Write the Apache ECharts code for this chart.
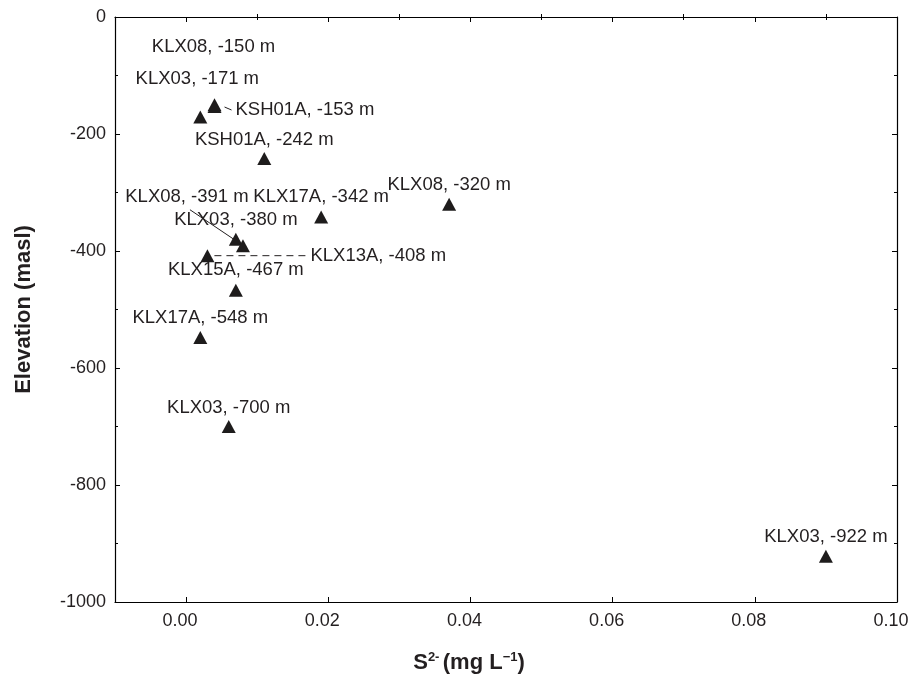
<!DOCTYPE html>
<html>
<head>
<meta charset="utf-8">
<script src="https://cdn.jsdelivr.net/npm/echarts@6/dist/echarts.min.js"></script>
<style>
html,body{margin:0;padding:0;background:#fff;}
#chart{width:911px;height:682px;}
</style>
</head>
<body>
<div id="chart"></div>
<script>
// ---- data ----
const boreholes = ['KLX08','KLX03','KSH01A','KSH01A','KLX17A','KLX08','KLX03','KLX08','KLX13A','KLX15A','KLX17A','KLX03','KLX03'];
const sulfide   = [0.004, 0.002, 0.004, 0.011, 0.019, 0.037, 0.007, 0.008, 0.003, 0.007, 0.002, 0.006, 0.090];
const elevation = [-150, -171, -153, -242, -342, -320, -380, -391, -408, -467, -548, -700, -922];
const xMajorTicks = [0.00, 0.02, 0.04, 0.06, 0.08, 0.10];
const xMinorTicks = [0.01, 0.03, 0.05, 0.07, 0.09];

// ---- label layout (style only, pixel offsets from the marker) ----
const labelOffsets = [
  {dx:-1, dy:-58, align:'center'},
  {dx:-3, dy:-38, align:'center'},
  {dx:21, dy:3, align:'left'},
  {dx:0, dy:-19, align:'center'},
  {dx:0, dy:-20, align:'center'},
  {dx:0, dy:-19, align:'center'},
  {dx:0, dy:-19, align:'center'},
  {dx:-56, dy:-49, align:'center'},
  {dx:103, dy:0, align:'left'},
  {dx:0, dy:-20, align:'center'},
  {dx:0, dy:-20, align:'center'},
  {dx:0, dy:-19, align:'center'},
  {dx:0, dy:-19, align:'center'}
];
// leader lines: [point index, start dx, start dy, end dx, end dy, style]
const leaders = [
  [2, 10, 0.5, 17, 3.5, 'solid'],
  [7, -53, -36, -4, -3, 'arrow'],
  [8, 7, 0, 98, 0, 'dashed']
];

const FONT = '"Liberation Sans", Arial, sans-serif';
const TXT = '#231f20';

const points = boreholes.map((b, i) => ({ name: b, value: [sulfide[i], elevation[i]] }));

const chart = echarts.init(document.getElementById('chart'), null, {renderer:'canvas'});

const axisLineStyle = { color: '#000', width: 1.2 };
function xAx(extra){
  return Object.assign({
    type:'value', min:-0.01, max:0.10, scale:false,
    axisLine:{show:true, onZero:false, lineStyle:axisLineStyle},
    splitLine:{show:false},
    axisLabel:{show:false},
    axisTick:{show:true, inside:true, length:5, lineStyle:{color:'#000'}}
  }, extra);
}
function yAx(extra){
  return Object.assign({
    type:'value', min:-1000, max:0, interval:200,
    axisLine:{show:true, onZero:false, lineStyle:axisLineStyle},
    splitLine:{show:false},
    axisLabel:{show:false},
    axisTick:{show:true, inside:true, length:5, lineStyle:{color:'#000'}},
    minorTick:{show:true, splitNumber:2, length:3, lineStyle:{color:'#000'}}
  }, extra);
}

const option = {
  animation:false,
  backgroundColor:'#fff',
  grid:{left:115, right:14, top:17, bottom:80, containLabel:false, outerBoundsMode:'none'},
  xAxis:[
    xAx({position:'bottom',
      axisTick:{show:true, inside:true, length:5, customValues:xMajorTicks, lineStyle:{color:'#000'}},
      axisLabel:{show:true, customValues:xMajorTicks, formatter:v=>v.toFixed(2), fontSize:18, color:TXT, fontFamily:FONT, margin:10, padding:[0,12,0,0]},
      name:'{b|S}{sup|2-} {b|(mg L}{sup|\u22121}{b|)}',
      nameLocation:'middle', nameGap:49,
      nameTextStyle:{padding:[0,74,0,0], rich:{
        b:{fontSize:22, fontWeight:'bold', fontFamily:FONT, color:TXT},
        sup:{fontSize:13, fontWeight:'bold', fontFamily:FONT, color:TXT, verticalAlign:'top', padding:[0,0,10,0]}
      }}
    }),
    xAx({position:'bottom', axisLine:{show:false},
      axisTick:{show:true, inside:true, length:3, customValues:xMinorTicks, lineStyle:{color:'#000'}}}),
    xAx({position:'top',
      axisTick:{show:true, inside:true, length:5, customValues:xMajorTicks, lineStyle:{color:'#000'}}}),
    xAx({position:'top', axisLine:{show:false},
      axisTick:{show:true, inside:true, length:3, customValues:xMinorTicks, lineStyle:{color:'#000'}}})
  ],
  yAxis:[
    yAx({position:'left',
      axisLabel:{show:true, fontSize:18, color:TXT, fontFamily:FONT, margin:9, formatter:v=>String(v)},
      name:'Elevation (masl)', nameLocation:'middle', nameGap:80,
      nameTextStyle:{fontSize:22, fontWeight:'bold', fontFamily:FONT, color:TXT}
    }),
    yAx({position:'right'})
  ],
  series:[{
    type:'scatter',
    xAxisIndex:0, yAxisIndex:0,
    symbol:'triangle',
    symbolSize:[14,13],
    itemStyle:{color:'#1e1c1c', opacity:1},
    z:3,
    data:points,
    label:{
      show:true,
      formatter:p=>p.name + ', ' + p.value[1] + ' m',
      fontSize:18.5, color:TXT, fontFamily:FONT
    },
    labelLayout:function(params){
      const o = labelOffsets[params.dataIndex];
      const r = params.rect;
      return {
        x: r.x + r.width/2 + o.dx,
        y: r.y + r.height/2 + o.dy,
        align: o.align,
        verticalAlign: 'middle',
        hideOverlap:false
      };
    }
  }]
};
chart.setOption(option);

// leader lines anchored on the data points
const graphics = [];
leaders.forEach(([i, sx, sy, ex, ey, style]) => {
  const p = chart.convertToPixel({seriesIndex:0}, [sulfide[i], elevation[i]]);
  const x1 = p[0] + sx, y1 = p[1] + sy, x2 = p[0] + ex, y2 = p[1] + ey;
  graphics.push({
    type:'line', z:2, silent:true,
    shape:{x1, y1, x2, y2},
    style:{stroke:TXT, lineWidth:1, lineDash: style === 'dashed' ? [7,5] : null}
  });
  if (style === 'arrow') {
    const L = Math.hypot(x2 - x1, y2 - y1), ux = (x2 - x1) / L, uy = (y2 - y1) / L;
    const al = 7, aw = 2.5;
    const bx = x2 - ux * al, by = y2 - uy * al;
    graphics.push({
      type:'polygon', z:2, silent:true,
      shape:{points:[[x2, y2], [bx - uy * aw, by + ux * aw], [bx + uy * aw, by - ux * aw]]},
      style:{fill:TXT}
    });
  }
});
chart.setOption({graphic: graphics});
</script>
</body>
</html>
